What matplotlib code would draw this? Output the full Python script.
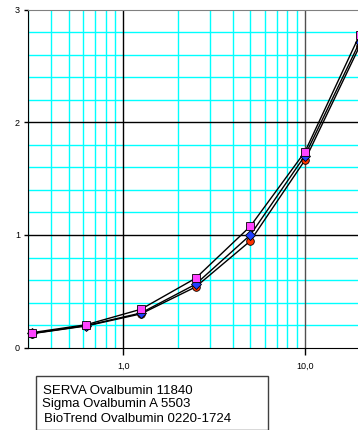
import matplotlib
matplotlib.use("Agg")
import matplotlib.pyplot as plt
from matplotlib.ticker import FixedLocator, NullFormatter
from matplotlib.patches import Rectangle
import numpy as np

concentration = [0.3125, 0.625, 1.25, 2.5, 5, 10, 20]
serva = [0.133, 0.204, 0.341, 0.616, 1.077, 1.739, 2.777]
sigma = [0.126, 0.196, 0.308, 0.563, 1.000, 1.705, 2.713]
biotrend = [0.124, 0.193, 0.300, 0.539, 0.947, 1.665, 2.677]
labels = ["SERVA Ovalbumin 11840", "Sigma Ovalbumin A 5503", "BioTrend Ovalbumin 0220-1724"]
x_major = [1, 10]
x_major_labels = ["1,0", "10,0"]
y_major = [0, 1, 2, 3]

plt.rcParams['font.family'] = ['Liberation Sans', 'DejaVu Sans']

fig = plt.figure(figsize=(3.58, 4.30), dpi=100)
ax = fig.add_axes([0.0791, 0.1914, 0.9257, 0.7863])
ax.set_xscale('log')
ax.set_xlim(0.3, 20)
ax.set_ylim(0, 3)

# grid
minor_x = [m * 10.0 ** d for d in (-1, 0, 1) for m in range(2, 10) if 0.3 < m * 10.0 ** d < 20]
for xv in minor_x:
    ax.axvline(xv, color='#00FFFF', lw=1.0, zorder=0)
for yv in np.arange(0.2, 3.0, 0.2):
    if abs(yv - round(yv)) > 1e-6:
        ax.axhline(yv, color='#00FFFF', lw=1.0, zorder=0)
ax.axvline(1, color='black', lw=1.0, zorder=1)
ax.axvline(10, color='#505050', lw=1.0, zorder=1)
for yv in (1, 2):
    ax.axhline(yv, color='black', lw=1.0, zorder=1)

series = [
    (biotrend, 'o', '#FF3300'),
    (sigma, 'D', '#1F3FFF'),
    (serva, 's', '#FF44FF'),
]
for vals, mk, col in series:
    ax.plot(concentration, vals, color='black', lw=1.0, marker=mk,
            markerfacecolor=col, markeredgecolor='black', markeredgewidth=0.6,
            markersize=5.5 if mk != 'D' else 5, zorder=3, clip_on=False)

ax.spines['top'].set_color('#808080')
ax.spines['left'].set_color('black')
ax.spines['bottom'].set_color('black')
ax.spines['right'].set_visible(False)

ax.xaxis.set_major_locator(FixedLocator(x_major))
ax.set_xticklabels(x_major_labels)
ax.xaxis.set_minor_locator(FixedLocator([]))
ax.xaxis.set_minor_formatter(NullFormatter())
ax.set_yticks(y_major)
ax.set_yticklabels([str(v) for v in y_major])
ax.tick_params(axis='x', direction='out', length=5, width=1, pad=5, labelsize=6.5)
ax.tick_params(axis='y', direction='out', length=3, width=1, pad=3, labelsize=6.5)

# legend box
fig.add_artist(Rectangle((36 / 358, 0), (268 - 36) / 358, (430 - 376) / 430,
                         transform=fig.transFigure, fill=False,
                         edgecolor='#404040', lw=1.0, clip_on=False))
ys = [390.7, 404.5, 418.5]
xs = [43.3, 41.7, 43.7]
for lab, yy, xx in zip(labels, ys, xs):
    fig.text(xx / 358, 1 - yy / 430, lab, fontsize=9.5, va='center', ha='left')

fig.savefig('out.png', dpi=100)
